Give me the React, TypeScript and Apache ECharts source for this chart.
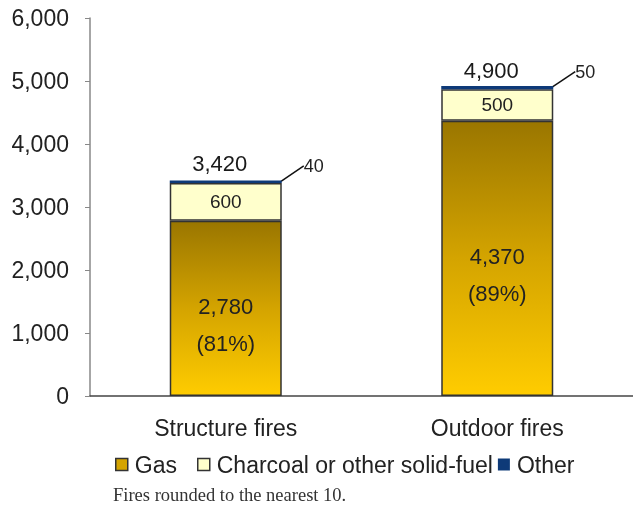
import React, { useEffect, useRef } from "react";
import * as echarts from "echarts";

const categories = ["Structure fires", "Outdoor fires"];
const gasValues = [2780, 4370];
const gasShares = ["81%", "89%"];
const charcoalValues = [600, 500];
const otherValues = [40, 50];
const totalLabels = [3420, 4900];
const yTicks = { min: 0, max: 6000, interval: 1000 };
const footnote = "Fires rounded to the nearest 10.";

const fmt = (v: number) => v.toLocaleString("en-US");
const FONT = "Liberation Sans, Arial, sans-serif";

export default function App() {
  const ref = useRef<HTMLDivElement>(null);
  useEffect(() => {
    if (!ref.current) return;
    const chart = echarts.init(ref.current, null, { renderer: "svg" });
    const gasGrad = new echarts.graphic.LinearGradient(0, 0, 0, 1, [
      { offset: 0, color: "#9A7600" },
      { offset: 0.5, color: "#D4A400" },
      { offset: 1, color: "#FFCC00" },
    ]);
    const border = { borderColor: "#333", borderWidth: 1.5 };
    const legendText = { fontSize: 23, color: "#222", fontFamily: FONT, padding: [0, 0, 0, 2] };
    chart.setOption({
      animation: false,
      textStyle: { fontFamily: FONT },
      grid: { left: 90, right: 0, top: 18, bottom: 112, containLabel: false },
      legend: [
        {
          left: 110,
          top: 448,
          icon: "rect",
          itemWidth: 12,
          itemHeight: 12,
          textStyle: legendText,
          data: [{ name: "Gas", itemStyle: { color: "#D4A400", borderColor: "#333", borderWidth: 1.5 } }],
        },
        {
          left: 192,
          top: 448,
          icon: "rect",
          itemWidth: 12,
          itemHeight: 12,
          itemGap: 5,
          textStyle: legendText,
          data: [
            { name: "Charcoal or other solid-fuel", itemStyle: { color: "#FFFFCC", borderColor: "#333", borderWidth: 1.5 } },
            { name: "Other", itemStyle: { color: "#0E3A78", borderColor: "#0E3A78", borderWidth: 0 } },
          ],
        },
      ],
      xAxis: {
        type: "category",
        data: categories,
        axisLine: { lineStyle: { color: "#444", width: 1.5 } },
        axisTick: { show: false },
        axisLabel: { fontSize: 23, color: "#222", margin: 20, fontFamily: FONT },
      },
      yAxis: {
        type: "value",
        min: yTicks.min,
        max: yTicks.max,
        interval: yTicks.interval,
        axisLine: { show: true, lineStyle: { color: "#888", width: 1.5 } },
        axisTick: { show: true, length: 5, lineStyle: { color: "#888" } },
        splitLine: { show: false },
        axisLabel: { fontSize: 23, color: "#222", margin: 21, fontFamily: FONT, formatter: (v: number) => fmt(v) },
      },
      series: [
        {
          name: "Gas",
          type: "bar",
          stack: "t",
          barWidth: 112,
          itemStyle: { color: gasGrad, ...border },
          label: {
            show: true,
            position: "inside",
            offset: [0, 17],
            fontSize: 22,
            lineHeight: 37,
            color: "#222",
            formatter: (p: any) => `${fmt(p.value)}\n(${gasShares[p.dataIndex]})`,
          },
          data: gasValues,
        },
        {
          name: "Charcoal or other solid-fuel",
          type: "bar",
          stack: "t",
          barWidth: 112,
          itemStyle: { color: "#FFFFCC", ...border },
          label: { show: true, position: "inside", fontSize: 19, color: "#222", formatter: (p: any) => fmt(p.value) },
          data: charcoalValues,
        },
        {
          name: "Other",
          type: "bar",
          stack: "t",
          barWidth: 112,
          itemStyle: { color: "#0E3A78", borderColor: "#0E3A78", borderWidth: 1.5 },
          label: { show: true, position: "right", distance: 4, fontSize: 18, color: "#222", formatter: (p: any) => fmt(p.value) },
          labelLayout: { dx: 18, dy: -16 },
          labelLine: { show: true, lineStyle: { color: "#111", width: 1.5 } },
          data: otherValues,
        },
        {
          name: "Total",
          type: "scatter",
          symbolSize: 0,
          silent: true,
          itemStyle: { opacity: 1, color: "#222" },
          label: {
            show: true,
            position: "top",
            distance: 6,
            offset: [-6, 0],
            fontSize: 22,
            color: "#1a1a1a",
            opacity: 1,
            formatter: (p: any) => fmt(p.value),
          },
          data: totalLabels,
        },
      ],
      graphic: [
        {
          type: "text",
          left: 113,
          top: 485,
          style: { text: footnote, fontSize: 18.5, fill: "#333", fontFamily: "Liberation Serif, Times New Roman, serif" },
        },
      ],
    });
    return () => chart.dispose();
  }, []);
  return <div ref={ref} style={{ position: "fixed", left: 0, top: 0, width: 633, height: 508 }} />;
}
